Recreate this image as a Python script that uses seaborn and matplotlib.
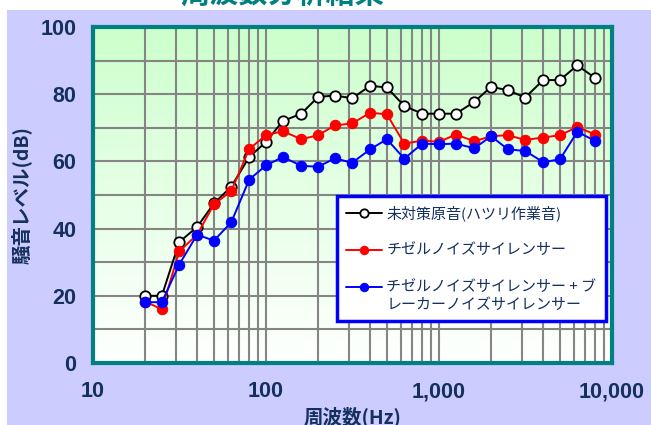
import numpy as np
import pandas as pd
import seaborn as sns
import matplotlib.pyplot as plt
from matplotlib.patches import Rectangle
from matplotlib.colors import LinearSegmentedColormap

# 1/3 octave band centre frequencies (Hz)
freqs = [20, 25, 31.5, 40, 50, 63, 80, 100, 125, 160, 200, 250, 315, 400, 500,
         630, 800, 1000, 1250, 1600, 2000, 2500, 3150, 4000, 5000, 6300, 8000]

# noise level (dB)
genon = [20, 20, 36, 40.5, 47.5, 52.5, 61.3, 65.8, 72, 74.2, 79.2, 79.6, 78.8, 82.5,
         82, 76.5, 74.2, 74.2, 74.2, 77.7, 82.2, 81.2, 79, 84.2, 84.2, 88.6, 84.8]
chisel = [18.3, 16, 33.2, 38.2, 47.2, 51.2, 63.7, 67.8, 69, 66.6, 67.8, 70.7, 71.3, 74.5,
          74, 65.3, 66.2, 65.8, 68, 66, 67.5, 67.8, 66.4, 67.1, 67.8, 70.2, 68]
chisel_breaker = [18.1, 18.1, 29.3, 38.2, 36.4, 41.9, 54.6, 58.8, 61.3, 58.7, 58.4, 60.9,
                  59.6, 63.6, 66.6, 60.8, 65.3, 65.1, 65.3, 63.9, 67.5, 63.6, 63.1, 59.8,
                  60.6, 68.8, 66.1]

labels = ['未対策原音(ハツリ作業音)',
          'チゼルノイズサイレンサー',
          'チゼルノイズサイレンサー + ブ\nレーカーノイズサイレンサー']

xticks = [10, 100, 1000, 10000]
xticklabels = ['10', '100', '1,000', '10,000']
yticks = [0, 20, 40, 60, 80, 100]

sns.set_style('white')
plt.rcParams['font.family'] = ['Noto Sans CJK JP', 'DejaVu Sans']

navy = '#15305e'
teal = '#008080'

fig = plt.figure(figsize=(6.51, 4.25), dpi=100, facecolor='white')
# lavender panel behind the chart
bg = Rectangle((7 / 651, 0), 1, 1 - 10 / 425, transform=fig.transFigure,
               facecolor='#ccccff', edgecolor='none', zorder=-10)
fig.add_artist(bg)
ax = fig.add_axes([93 / 651, 1 - 363 / 425, 519 / 651, 336 / 425])
ax.set_zorder(1)

# green to white gradient in plot area
grad = LinearSegmentedColormap.from_list('g', ['#ffffff', '#e6ffe6', '#ccffcc'])
ax.imshow(np.linspace(0, 1, 256).reshape(-1, 1), cmap=grad, aspect='auto',
          extent=[0, 1, 0, 1], origin='lower', transform=ax.transAxes, zorder=0)

sns.lineplot(x=freqs, y=genon, ax=ax, color='black', lw=1.4, marker='o',
             markersize=7.5, markerfacecolor='white', markeredgecolor='black',
             markeredgewidth=1.3, label=labels[0], zorder=3)
sns.lineplot(x=freqs, y=chisel, ax=ax, color='#ff0000', lw=1.4, marker='o',
             markersize=7.5, markerfacecolor='#ff0000', markeredgecolor='#ff0000',
             label=labels[1], zorder=4)
sns.lineplot(x=freqs, y=chisel_breaker, ax=ax, color='#0000ff', lw=1.4, marker='o',
             markersize=7.5, markerfacecolor='#0000ff', markeredgecolor='#0000ff',
             label=labels[2], zorder=5)

ax.set_xscale('log')
ax.set_xlim(10, 10000)
ax.set_ylim(0, 100)
ax.set_xticks(xticks)
ax.set_xticklabels(xticklabels)
ax.set_yticks(yticks)
ax.set_yticks([10, 30, 50, 70, 90], minor=True)
ax.grid(True, which='both', color='#858585', lw=1.5, zorder=1)
ax.set_axisbelow(False)
for gl in ax.get_xgridlines() + ax.get_ygridlines():
    gl.set_zorder(1)

ax.tick_params(which='major', direction='in', length=4, width=2, color=teal, pad=12,
               labelsize=15.5, labelcolor=navy)
ax.tick_params(axis='x', which='major', pad=13)
ax.tick_params(which='minor', length=0)
for t in ax.get_xticklabels() + ax.get_yticklabels():
    t.set_family(['Liberation Sans', 'DejaVu Sans'])
    t.set_fontweight('bold')

for s in ax.spines.values():
    s.set_color(teal)
    s.set_linewidth(3)
    s.set_zorder(6)

ax.set_xlabel('周波数(Hz)', fontsize=14, fontweight='bold', color=navy, labelpad=3)
ax.set_ylabel('騒音レベル(dB)', fontsize=14, fontweight='bold', color=navy, labelpad=6)

leg = ax.legend(loc='upper left', bbox_to_anchor=(0.47, 0.497), borderaxespad=0,
                fontsize=10.8, labelcolor=navy, handlelength=2.4, handletextpad=0.3,
                labelspacing=1.55, borderpad=0.6, markerscale=0.8, fancybox=False,
                framealpha=1, facecolor='white', edgecolor='#0000ff')
leg.get_frame().set_linewidth(2.5)
leg.set_zorder(7)
# align the last handle with the first line of its two-line label
h = leg.legend_handles[2]
h.set_ydata(np.asarray(h.get_ydata()) + 7)

fig.text(0.434, 1 - 9 / 425, '周波数分析結果', ha='center', va='bottom',
         fontsize=21, fontweight='bold', color=teal)

fig.savefig('out.png', dpi=100)
